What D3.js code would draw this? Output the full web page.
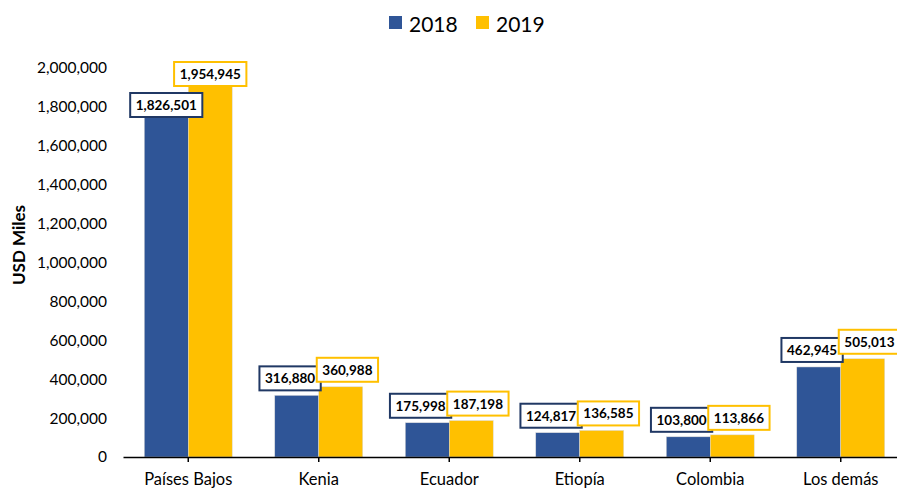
<!DOCTYPE html>
<html>
<head>
<meta charset="utf-8">
<script src="https://cdn.jsdelivr.net/npm/d3@7"></script>
<style>
  body { margin: 0; background: #fff; }
  svg { font-family: Lato, "Open Sans", sans-serif; display: block; }
</style>
</head>
<body>
<svg id="chart"></svg>
<script>
// chart data
const categories = ["Países Bajos", "Kenia", "Ecuador", "Etiopía", "Colombia", "Los demás"];
const years = ["2018", "2019"];
const values2018 = [1826501, 316880, 175998, 124817, 103800, 462945];
const values2019 = [1954945, 360988, 187198, 136585, 113866, 505013];
const yTicks = [0, 200000, 400000, 600000, 800000, 1000000, 1200000, 1400000, 1600000, 1800000, 2000000];

const colors = { "2018": "#2F5597", "2019": "#FFC000" };
const borders = { "2018": "#203864", "2019": "#FFC000" };
const width = 897, height = 489;
const fmt = d3.format(",");

const svg = d3.select("#chart").attr("width", width).attr("height", height);

const x0 = d3.scaleBand().domain(categories).range([123, 906])
  .paddingInner(0.326).paddingOuter(0.163);
const x1 = d3.scaleBand().domain(years).range([0, x0.bandwidth()]);
const y = d3.scaleLinear().domain([0, 2000000]).range([457, 68]);

const rows = categories.map((c, i) => ({ cat: c, vals: [values2018[i], values2019[i]] }));

// bars
const groups = svg.append("g").selectAll("g")
  .data(rows).enter().append("g")
  .attr("transform", d => `translate(${x0(d.cat)},0)`);

groups.selectAll("rect")
  .data(d => years.map((k, j) => ({ year: k, value: d.vals[j] })))
  .enter().append("rect")
  .attr("x", d => x1(d.year))
  .attr("y", d => y(d.value))
  .attr("width", x1.bandwidth())
  .attr("height", d => y(0) - y(d.value))
  .attr("fill", d => colors[d.year])
  .attr("stroke", "#d9d9d9")
  .attr("stroke-width", 0.5);

// y axis (labels only)
const yAxis = svg.append("g")
  .attr("transform", "translate(123,0)")
  .call(d3.axisLeft(y).tickValues(yTicks).tickFormat(fmt).tickSize(0).tickPadding(16));
yAxis.select(".domain").remove();
yAxis.selectAll("text").attr("font-size", 15.5).attr("fill", "#000").attr("font-family", "Lato");

// x axis
const xAxis = svg.append("g")
  .attr("transform", "translate(0,457)")
  .call(d3.axisBottom(x0).tickSizeInner(5).tickSizeOuter(0).tickPadding(11));
xAxis.select(".domain").attr("stroke", "#000").attr("stroke-width", 1.5);
xAxis.selectAll(".tick line").attr("stroke", "#000").attr("stroke-width", 1.5);
xAxis.selectAll("text").attr("font-size", 16.5).attr("fill", "#000").attr("font-family", "Lato");

// y title
svg.append("text")
  .attr("transform", "translate(18,245) rotate(-90)")
  .attr("text-anchor", "middle")
  .attr("dominant-baseline", "central")
  .attr("font-weight", "bold")
  .attr("font-size", 17)
  .text("USD Miles");

// legend
const legend = svg.append("g");
years.forEach((k, j) => {
  const lx = 389 + j * 87;
  legend.append("rect").attr("x", lx).attr("y", 16).attr("width", 13).attr("height", 13)
    .attr("fill", colors[k]);
  legend.append("text").attr("x", lx + 20).attr("y", 23)
    .attr("dominant-baseline", "central").attr("font-size", 21).text(k);
});

// data labels in boxes
const boxH = 24, plotTop = 62;
const labelLayer = svg.append("g");
rows.forEach(r => {
  const boxes = years.map((k, j) => {
    const g = labelLayer.append("g");
    const t = g.append("text")
      .attr("text-anchor", "middle")
      .attr("dominant-baseline", "central")
      .attr("font-weight", "bold")
      .attr("font-size", 13.5)
      .text(fmt(r.vals[j]));
    const w = t.node().getBBox().width + 11;
    let top = y(r.vals[j]) - 5 - boxH;
    let clamped = false;
    if (top < plotTop) { top = plotTop; clamped = true; }
    return { g, t, w, top, clamped, year: k, cx: x0(r.cat) + x1(k) + x1.bandwidth() / 2 };
  });
  const [a, b] = boxes;
  const hOverlap = (a.cx + a.w / 2) > (b.cx - b.w / 2);
  const vOverlap = Math.abs(a.top - b.top) < boxH;
  if (b.clamped && hOverlap && a.top < b.top + boxH + 7) {
    a.top = b.top + boxH + 7;
  } else if (hOverlap && vOverlap) {
    const need = (a.w + b.w) / 2 - 4;
    const gap = b.cx - a.cx;
    if (gap < need) {
      const s = (need - gap) / 2;
      a.cx -= s; b.cx += s;
    }
  }
  boxes.forEach(d => {
    d.g.attr("transform", `translate(${d.cx},${d.top + boxH / 2})`);
    d.g.insert("rect", "text")
      .attr("x", -d.w / 2).attr("y", -boxH / 2)
      .attr("width", d.w).attr("height", boxH)
      .attr("fill", "#fff")
      .attr("stroke", borders[d.year])
      .attr("stroke-width", 2);
  });
});
</script>
</body>
</html>
